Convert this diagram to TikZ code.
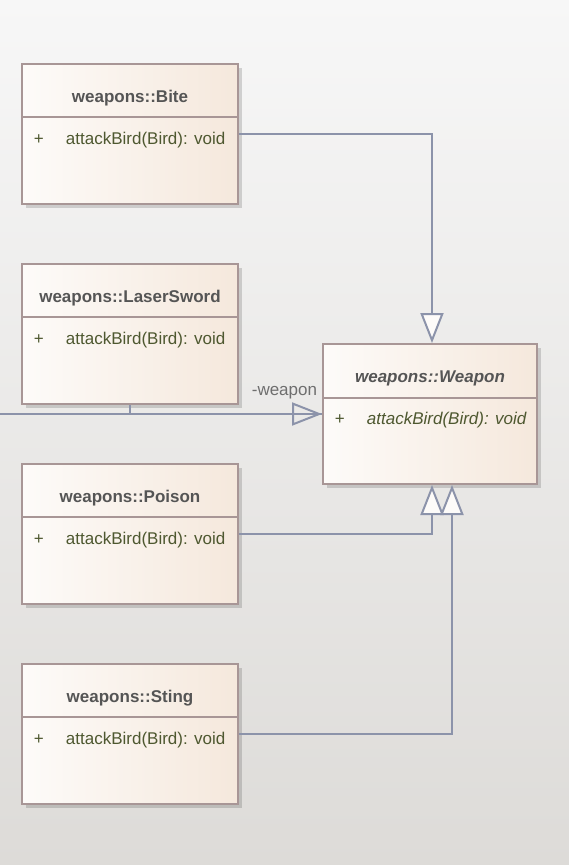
\documentclass[tikz,border=0pt]{standalone}
\usepackage{fontspec}
\setmainfont{Liberation Sans}
\usetikzlibrary{arrows.meta,shadows,positioning}

\definecolor{bgtop}{RGB}{247,247,247}
\definecolor{bgbottom}{RGB}{221,219,216}
\definecolor{classborder}{RGB}{168,150,150}
\definecolor{classleft}{RGB}{253,251,249}
\definecolor{classright}{RGB}{245,232,220}
\definecolor{linkcolor}{RGB}{140,147,170}
\definecolor{headtext}{RGB}{85,85,85}
\definecolor{opertext}{RGB}{78,88,48}
\definecolor{roletext}{RGB}{110,110,110}

\tikzset{
  classbox/.style={draw=classborder, line width=2pt, left color=classleft, right color=classright,
    minimum width=216pt, minimum height=140pt, inner sep=0pt,
    drop shadow={shadow xshift=4pt, shadow yshift=-4pt, fill=black, opacity=0.15}},
  classsep/.style={draw=classborder, line width=2pt},
  classname/.style={text=headtext, font=\fontsize{17}{20}\selectfont\bfseries, inner sep=0.75pt},
  opername/.style={text=opertext, font=\fontsize{17}{20}\selectfont, anchor=west, inner sep=0.75pt},
  generalize/.style={draw=linkcolor, line width=2pt, -{Triangle[length=30pt,width=23pt,fill=classleft]}},
  associate/.style={draw=linkcolor, line width=2pt, -{Triangle[open,length=30pt,width=23pt]}}
}

\begin{document}
\begin{tikzpicture}[x=1pt,y=1pt,yscale=-1,xscale=1]
\useasboundingbox (0,0) rectangle (569,865);
%Background
\fill [top color=bgtop, bottom color=bgbottom] (0,0) rectangle (569,865);

%Shape: Class weapons::Bite
\node [classbox] (bite) at (130,134) {};
\draw [classsep] ([yshift=54pt]bite.north west) -- ([yshift=54pt]bite.north east);
%Shape: Class weapons::LaserSword
\node [classbox] (laser) at (130,334) {};
\draw [classsep] ([yshift=54pt]laser.north west) -- ([yshift=54pt]laser.north east);
%Shape: Class weapons::Poison
\node [classbox] (poison) at (130,534) {};
\draw [classsep] ([yshift=54pt]poison.north west) -- ([yshift=54pt]poison.north east);
%Shape: Class weapons::Sting
\node [classbox] (sting) at (130,734) {};
\draw [classsep] ([yshift=54pt]sting.north west) -- ([yshift=54pt]sting.north east);
%Shape: Class weapons::Weapon
\node [classbox, minimum width=214pt] (weapon) at (430,414) {};
\draw [classsep] ([yshift=55pt]weapon.north west) -- ([yshift=55pt]weapon.north east);

%Straight Lines: generalizations
\draw [generalize] (bite.east) -| ([xshift=2pt]weapon.north);
\draw [generalize] (poison.east) -| ([xshift=2pt]weapon.south);
\draw [generalize] (sting.east) -| ([xshift=22pt]weapon.south);
%Straight Lines: association
\coordinate (client) at (0,414);
\draw [draw=linkcolor, line width=2pt] (client) -- (weapon.west);
\draw [associate] (client) -- (weapon.west);
\draw [draw=linkcolor, line width=2pt] (laser.south) -- (laser.south |- weapon.west);

% Text Node
\node [classname] (bitename) at ([yshift=35pt]bite.north) {weapons::Bite};
\node [opername] (biteplus) at ([xshift=12pt,yshift=77pt]bite.north west) {+};
\node [opername] (biteop) at ([xshift=44pt,yshift=77pt]bite.north west) {attackBird(Bird): void};
% Text Node
\node [classname] (lasername) at ([yshift=35pt]laser.north) {weapons::LaserSword};
\node [opername] (laserplus) at ([xshift=12pt,yshift=77pt]laser.north west) {+};
\node [opername] (laserop) at ([xshift=44pt,yshift=77pt]laser.north west) {attackBird(Bird): void};
% Text Node
\node [classname] (poisonname) at ([yshift=35pt]poison.north) {weapons::Poison};
\node [opername] (poisonplus) at ([xshift=12pt,yshift=77pt]poison.north west) {+};
\node [opername] (poisonop) at ([xshift=44pt,yshift=77pt]poison.north west) {attackBird(Bird): void};
% Text Node
\node [classname] (stingname) at ([yshift=35pt]sting.north) {weapons::Sting};
\node [opername] (stingplus) at ([xshift=12pt,yshift=77pt]sting.north west) {+};
\node [opername] (stingop) at ([xshift=44pt,yshift=77pt]sting.north west) {attackBird(Bird): void};
% Text Node
\node [classname, font=\fontsize{17}{20}\selectfont\bfseries\itshape] (weaponname) at ([yshift=35pt]weapon.north) {weapons::Weapon};
\node [opername] (weaponplus) at ([xshift=12pt,yshift=77pt]weapon.north west) {+};
\node [opername, font=\fontsize{17}{20}\selectfont\itshape] (weaponop) at ([xshift=44pt,yshift=77pt]weapon.north west) {attackBird(Bird): void};
% Text Node
\node [anchor=east, text=roletext, font=\fontsize{17}{20}\selectfont, inner sep=0.75pt] (role) at ([xshift=-4pt,yshift=-21pt]weapon.west) {-weapon};

\end{tikzpicture}
\end{document}
